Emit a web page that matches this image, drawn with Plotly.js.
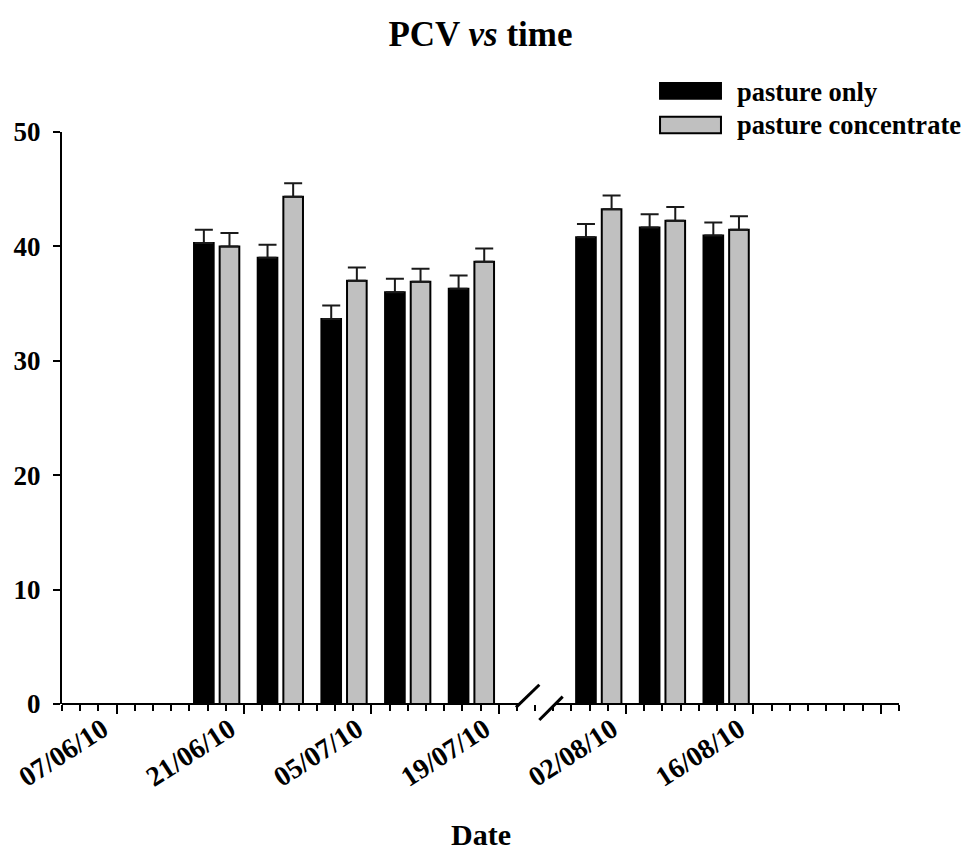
<!DOCTYPE html>
<html>
<head>
<meta charset="utf-8">
<script src="https://cdn.plot.ly/plotly-3.0.1.min.js"></script>
<style>html,body{margin:0;padding:0;background:#fff;}#chart{width:967px;height:853px;}</style>
</head>
<body>
<div id="chart"></div>
<script>
// Sampling dates (weekly, gap on 23/07/10)
const dates = ['2010-06-18','2010-06-25','2010-07-02','2010-07-09','2010-07-16','2010-07-30','2010-08-06','2010-08-13'];
const seriesNames = ['pasture only','pasture concentrate'];
const pastureOnly = [40.3, 39.0, 33.65, 36.0, 36.3, 40.8, 41.65, 40.95];
const pastureOnlyErr = [1.16, 1.15, 1.18, 1.18, 1.16, 1.15, 1.17, 1.14];
const pastureConc = [40.0, 44.35, 37.0, 36.9, 38.65, 43.25, 42.25, 41.45];
const pastureConcErr = [1.18, 1.17, 1.16, 1.15, 1.16, 1.2, 1.19, 1.18];
const zeros = dates.map(() => 0);

// Major x ticks and their labels (last major tick is unlabeled in the original)
const xTickVals = ['2010-06-07','2010-06-21','2010-07-05','2010-07-19','2010-08-02','2010-08-16','2010-08-30'];
const xTickText = ['07/06/10','21/06/10','05/07/10','19/07/10','02/08/10','16/08/10',''];
const xTitle = 'Date';

const FONT = 'Liberation Serif, Times New Roman, serif';
const DAY = 86400000;

const traces = [
  {
    type: 'bar', name: seriesNames[0], x: dates, y: pastureOnly,
    marker: {color: '#000000', line: {color: '#000000', width: 2}},
    error_y: {type: 'data', symmetric: false, array: pastureOnlyErr, arrayminus: zeros,
              color: '#1a1a1a', thickness: 2, width: 9},
    showlegend: false
  },
  {
    type: 'bar', name: seriesNames[1], x: dates, y: pastureConc,
    marker: {color: '#c0c0c0', line: {color: '#000000', width: 2}},
    error_y: {type: 'data', symmetric: false, array: pastureConcErr, arrayminus: zeros,
              color: '#1a1a1a', thickness: 2, width: 9},
    showlegend: false
  }
];

const layout = {
  width: 967, height: 853,
  margin: {l: 62, r: 68, t: 132, b: 149},
  paper_bgcolor: '#ffffff', plot_bgcolor: '#ffffff',
  font: {family: FONT, color: '#000000'},
  barmode: 'group', bargap: 0.195, bargroupgap: 0.234,
  title: {text: '<b>PCV <i>vs</i> time</b>', font: {family: FONT, size: 35, color: '#000'},
          x: 0.5, xref: 'paper', xanchor: 'center', y: 0.961, yref: 'container', yanchor: 'middle'},
  xaxis: {
    type: 'date', range: ['2010-06-01', '2010-09-01'],
    tickmode: 'array', tickvals: xTickVals, ticktext: xTickText,
    ticks: 'outside', ticklen: 9, tickwidth: 2, tickcolor: '#000',
    minor: {tickmode: 'linear', tick0: '2010-06-01', dtick: 2 * DAY, ticks: 'outside', ticklen: 6, tickwidth: 2, tickcolor: '#000', showgrid: false},
    tickangle: -33,
    ticklabelshift: -14, ticklabelstandoff: -12,
    tickfont: {family: FONT, size: 28, weight: 'bold', color: '#000'},
    showline: false, showgrid: false, zeroline: false
  },
  yaxis: {
    range: [0, 50], dtick: 10, tick0: 0,
    ticks: 'outside', ticklen: 7, tickwidth: 2, tickcolor: '#000',
    showline: true, linewidth: 2, linecolor: '#000',
    showgrid: false, zeroline: false,
    tickfont: {family: FONT, size: 27, weight: 'bold', color: '#000'},
    ticklabelstandoff: 7
  },
  shapes: [
    // x axis line with break
    {type: 'line', xref: 'paper', yref: 'paper', x0: 0, x1: 0.546, y0: 0, y1: 0, line: {color: '#000', width: 2}},
    {type: 'line', xref: 'paper', yref: 'paper', x0: 0.590, x1: 1, y0: 0, y1: 0, line: {color: '#000', width: 2}},
    // break slashes
    {type: 'line', xref: 'paper', yref: 'paper', x0: 0.5424, x1: 0.5703, y0: -0.0058, y1: 0.0337, line: {color: '#000', width: 3}},
    {type: 'line', xref: 'paper', yref: 'paper', x0: 0.5703, x1: 0.5982, y0: -0.0280, y1: 0.0128, line: {color: '#000', width: 3}},
    // legend swatches
    {type: 'rect', xref: 'paper', yref: 'paper', x0: 0.7145, x1: 0.7873, y0: 1.058, y1: 1.0855, fillcolor: '#000', line: {color: '#000', width: 2}},
    {type: 'rect', xref: 'paper', yref: 'paper', x0: 0.7145, x1: 0.7873, y0: 0.998, y1: 1.0265, fillcolor: '#c0c0c0', line: {color: '#000', width: 2}}
  ],
  annotations: [
    {text: '<b>' + seriesNames[0] + '</b>', xref: 'paper', yref: 'paper', x: 0.8045, y: 1.070, xanchor: 'left', yanchor: 'middle',
     showarrow: false, font: {family: FONT, size: 26.5, color: '#000'}},
    {text: '<b>' + seriesNames[1] + '</b>', xref: 'paper', yref: 'paper', x: 0.8045, y: 1.0125, xanchor: 'left', yanchor: 'middle',
     showarrow: false, font: {family: FONT, size: 26.5, color: '#000'}},
    // x axis title
    {text: '<b>' + xTitle + '</b>', xref: 'paper', yref: 'paper', x: 0.5, y: -0.2585, xanchor: 'center', yanchor: 'bottom',
     borderpad: 0, showarrow: false, font: {family: FONT, size: 30, color: '#000'}}
  ]
};

Plotly.newPlot('chart', traces, layout, {displayModeBar: false, staticPlot: true});
</script>
</body>
</html>
